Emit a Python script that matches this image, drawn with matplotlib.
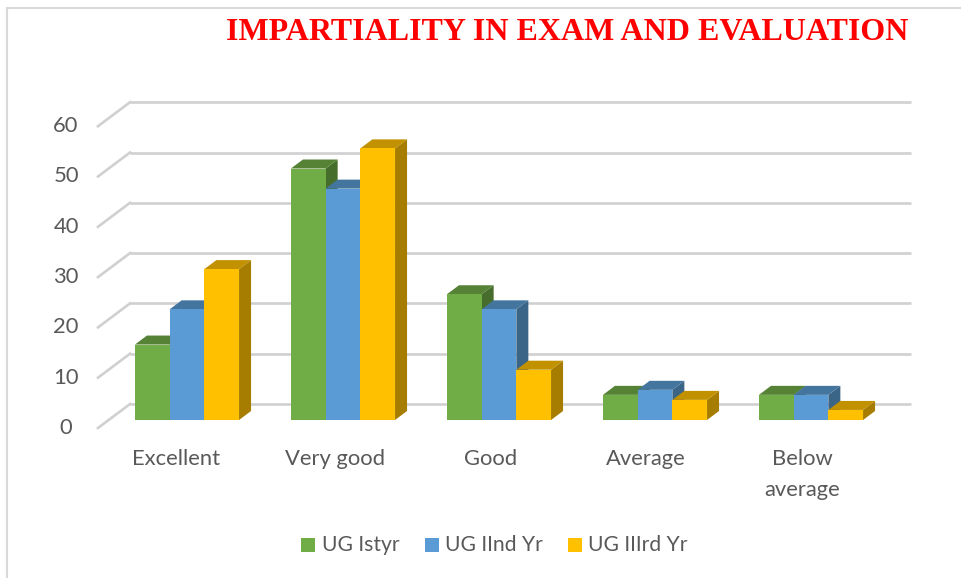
import matplotlib
matplotlib.use("Agg")
import matplotlib.pyplot as plt
from matplotlib.patches import Polygon

categories = ["Excellent", "Very good", "Good", "Average", "Below\naverage"]
series_names = ["UG Istyr", "UG IInd Yr", "UG IIIrd Yr"]
ug_1 = [15, 50, 25, 5, 5]
ug_2 = [22, 46, 22, 6, 5]
ug_3 = [30, 54, 10, 4, 2]
y_ticks = [0, 10, 20, 30, 40, 50, 60]

front = ["#70AD47", "#5B9BD5", "#FFC000"]
top = ["#568235", "#44759F", "#C19100"]
side = ["#476D2C", "#3B6587", "#A67D00"]
grid = "#D0D0D0"
text_color = "#595959"

# one data unit on x is a category step (156 px), on y one value unit (5.03 px)
fig = plt.figure(figsize=(9.61, 5.78), dpi=100)
ax = fig.add_axes([0, 0, 1, 1])
ax.set_xlim(-187 / 156, (961 - 187) / 156)
ax.set_ylim(-(578 - 420) / 5.03, 420 / 5.03)
ax.axis("off")

bar_w = 34.7 / 156
dx = 12 / 156
dy = 9 / 5.03
wall_left = -57 / 156   # back wall start
wall_dx = -32 / 156
wall_y0 = 16 / 5.03     # back wall floor height above bar base
wall_dy = -24 / 5.03
wall_right = 724 / 156

for v in y_ticks:
    y = v + wall_y0
    ax.plot([wall_left, wall_right], [y, y], color=grid, lw=1.9, solid_capstyle="butt", zorder=1)
    ax.plot([wall_left + wall_dx, wall_left], [y + wall_dy, y], color=grid, lw=1.9, zorder=1)

for i, (vals, name) in enumerate(zip([ug_1, ug_2, ug_3], series_names)):
    for c, v in enumerate(vals):
        x0 = c + (i - 1.5) * bar_w
        x1 = x0 + bar_w
        z = 3 + i + c * 4
        ax.add_patch(Polygon([(x1, 0), (x1 + dx, dy), (x1 + dx, v + dy), (x1, v)],
                             fc=side[i], ec="none", zorder=z))
        ax.add_patch(Polygon([(x0, v), (x0 + dx, v + dy), (x1 + dx, v + dy), (x1, v)],
                             fc=top[i], ec="none", zorder=z))
        ax.bar(x0, v, bar_w, align="edge", color=front[i], edgecolor="none", zorder=z + 0.5)

for v in y_ticks:
    ax.text(-121 / 156, v - 8 / 5.03, str(v), ha="center", va="center", fontsize=15.8,
            family="Lato", color=text_color)

label_x = [-11 / 156, 148 / 156, 304 / 156, 459 / 156, 615 / 156]
for x, lab in zip(label_x, categories):
    ax.text(x, -29 / 5.03, lab, ha="center", va="top", fontsize=15.8, family="Lato",
            color=text_color, linespacing=1.7)

# legend
leg_x = [114 / 156, 237.5 / 156, 380.5 / 156]
for x, name, col in zip(leg_x, series_names, front):
    ax.bar(x, -14 / 5.03, 14 / 156, bottom=-118 / 5.03, align="edge", color=col, zorder=3)
    ax.text(x + 20.5 / 156, -125 / 5.03, name, ha="left", va="center", fontsize=15.2,
            family="Lato", color=text_color)

ax.text(721 / 156, 77.1, "IMPARTIALITY IN EXAM AND EVALUATION", ha="right", va="center",
        fontsize=23, fontweight="bold", family="Liberation Serif", color="#FF0000")

# chart frame
ax.plot([-180 / 156] * 2, [(420 - 577) / 5.03, (420 - 7.5) / 5.03], color="#D9D9D9", lw=1.5, zorder=1)
ax.plot([-180 / 156, 774 / 156], [(420 - 7.5) / 5.03] * 2, color="#D9D9D9", lw=1.5, zorder=1)

fig.savefig("out.png", dpi=100, facecolor="white")
